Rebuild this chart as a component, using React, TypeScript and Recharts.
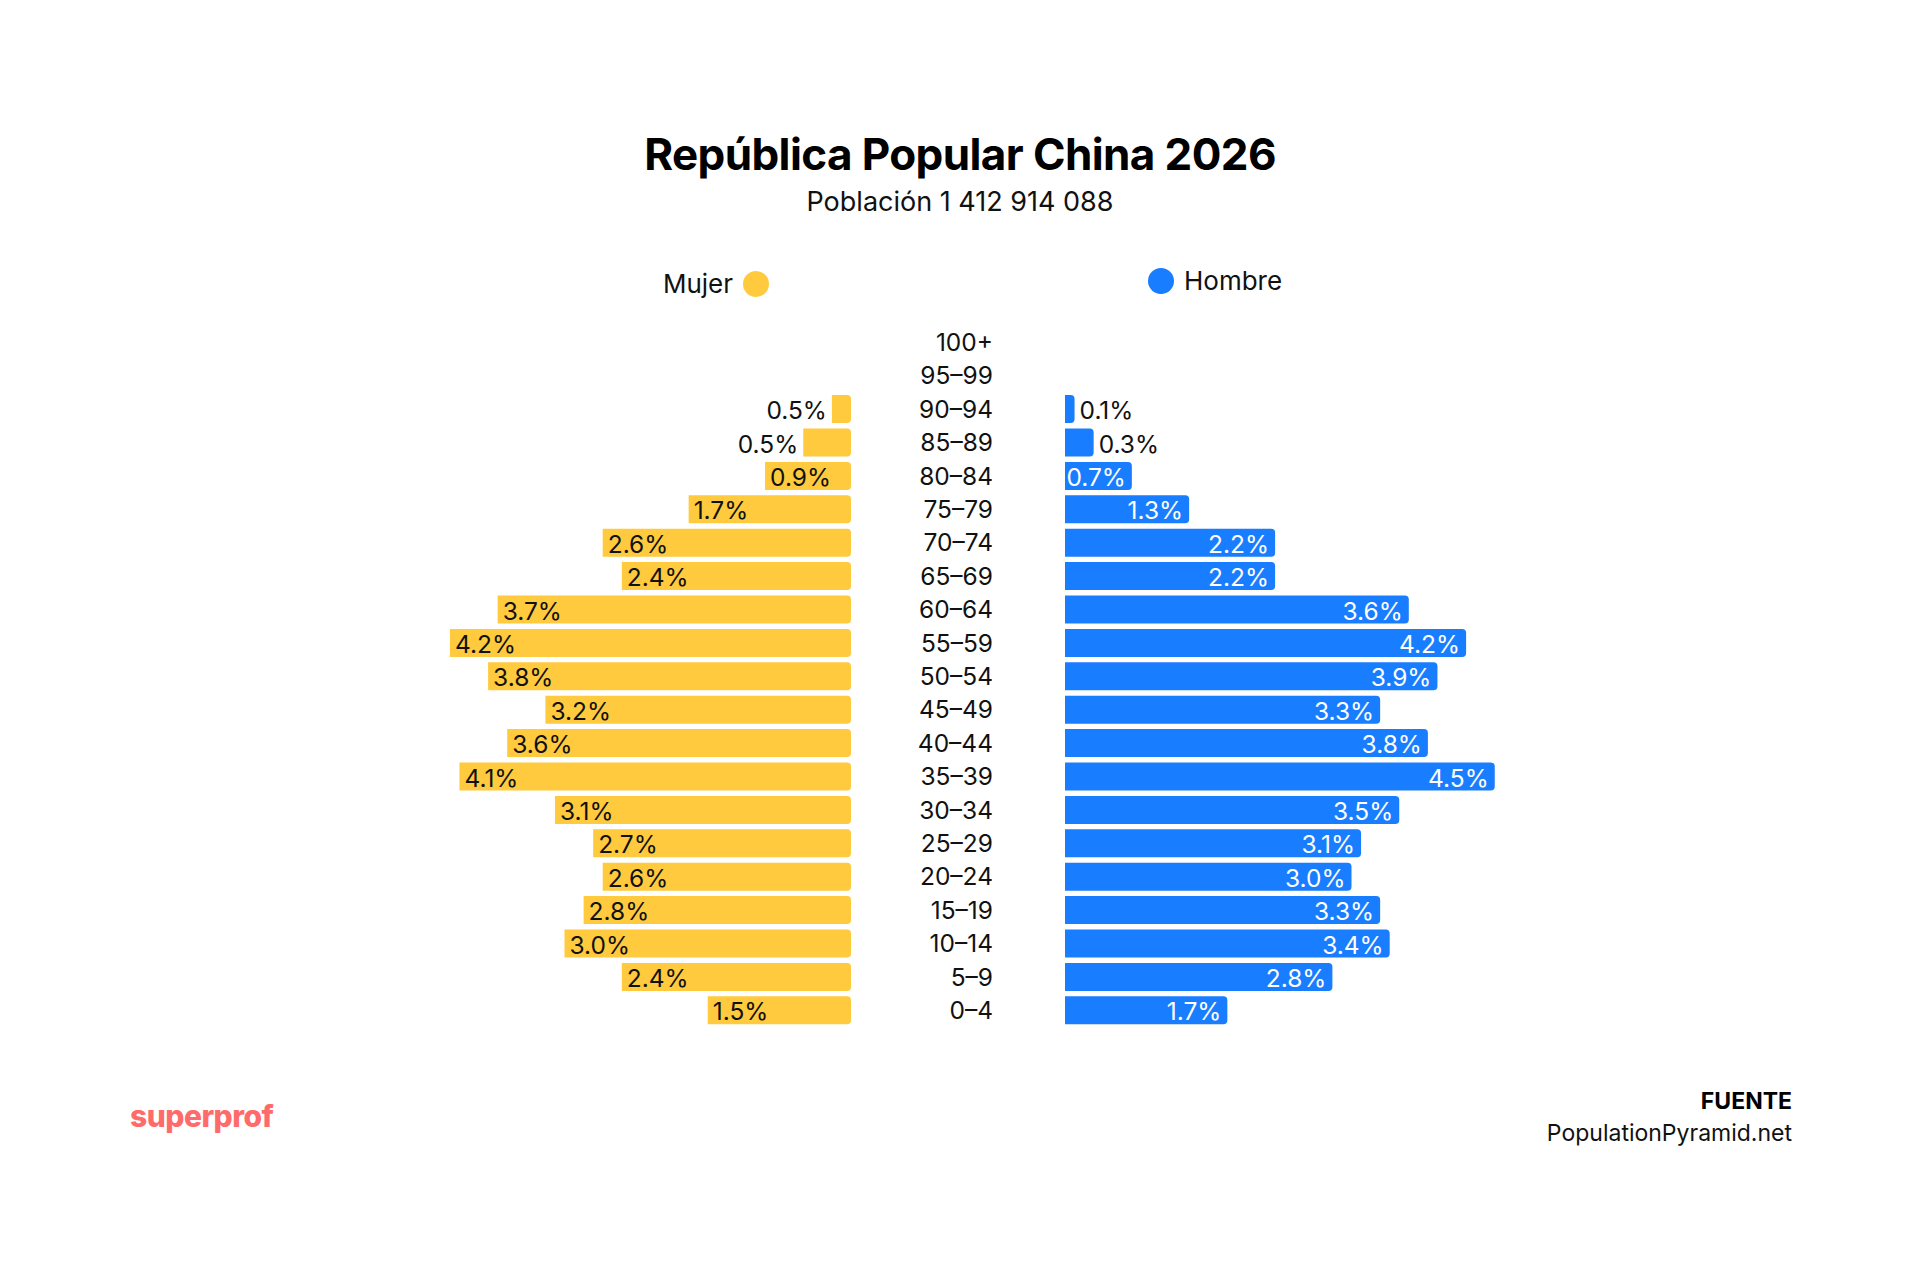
import React from "react";
import { BarChart, Bar, XAxis, YAxis, LabelList } from "recharts";

const ages = ["100+","95–99","90–94","85–89","80–84","75–79","70–74","65–69","60–64","55–59","50–54","45–49","40–44","35–39","30–34","25–29","20–24","15–19","10–14","5–9","0–4"];
const womenBars = [0,0,0.2,0.5,0.9,1.7,2.6,2.4,3.7,4.2,3.8,3.2,3.6,4.1,3.1,2.7,2.6,2.8,3.0,2.4,1.5];
const menBars = [0,0,0.1,0.3,0.7,1.3,2.2,2.2,3.6,4.2,3.9,3.3,3.8,4.5,3.5,3.1,3.0,3.3,3.4,2.8,1.7];
const womenLabels = ["0.0%","0.2%","0.5%","0.5%","0.9%","1.7%","2.6%","2.4%","3.7%","4.2%","3.8%","3.2%","3.6%","4.1%","3.1%","2.7%","2.6%","2.8%","3.0%","2.4%","1.5%"];
const menLabels = ["0.0%","0.0%","0.1%","0.3%","0.7%","1.3%","2.2%","2.2%","3.6%","4.2%","3.9%","3.3%","3.8%","4.5%","3.5%","3.1%","3.0%","3.3%","3.4%","2.8%","1.7%"];

const FONT = "Inter, sans-serif";
const YELLOW = "#FFCA3E";
const BLUE = "#187DFF";
const rows = ages.map((age, i) => ({ age, women: womenBars[i], men: menBars[i], womenLabel: womenLabels[i], menLabel: menLabels[i] }));

const PLOT_W = 477.5;
const PLOT_TOP = 325.3;
const PLOT_H = 701.4;
const LABEL_SIZE = 24.5;
const INSIDE_MIN = 50;

function WomenLabel(props: any) {
  const { x, y, width, height, value } = props;
  const left = Math.min(x, x + width);
  const w = Math.abs(width);
  const inside = w >= INSIDE_MIN;
  return (
    <text x={inside ? left + 5 : left - 5} y={y + height / 2 + 1} textAnchor={inside ? "start" : "end"} dominantBaseline="central"
      fill="#111" fontFamily={FONT} fontSize={LABEL_SIZE}>{value}</text>
  );
}

function MenLabel(props: any) {
  const { x, y, width, height, value } = props;
  const right = x + width;
  const inside = width >= INSIDE_MIN;
  return (
    <text x={inside ? right - 6 : right + 5} y={y + height / 2 + 1} textAnchor={inside ? "end" : "start"} dominantBaseline="central"
      fill={inside ? "#fff" : "#111"} fontFamily={FONT} fontSize={LABEL_SIZE}>{value}</text>
  );
}

function AgeTick(props: any) {
  const { y, payload } = props;
  return (
    <text x={993} y={y} textAnchor="end" dominantBaseline="central" fill="#111" fontFamily={FONT} fontSize={LABEL_SIZE}>{payload.value}</text>
  );
}

const abs = (style: React.CSSProperties): React.CSSProperties => ({ position: "absolute", fontFamily: FONT, whiteSpace: "nowrap", ...style });

export default function App() {
  return (
    <div style={{ position: "absolute", left: 0, top: 0, width: 1920, height: 1280, background: "#fff", overflow: "hidden" }}>
      <div style={abs({ left: 0, width: 1920, top: 124, textAlign: "center", fontSize: 44, fontWeight: 700, lineHeight: "60px", color: "#000", letterSpacing: -0.6 })}>República Popular China 2026</div>
      <div style={abs({ left: 0, width: 1920, top: 184, textAlign: "center", fontSize: 27, lineHeight: "36px", color: "#111" })}>Población 1 412 914 088</div>

      <div style={abs({ right: 1920 - 733, top: 268, fontSize: 26, lineHeight: "32px", color: "#111" })}>Mujer</div>
      <div style={{ position: "absolute", left: 742.5, top: 271, width: 26, height: 26, borderRadius: 13, background: YELLOW }} />
      <div style={{ position: "absolute", left: 1148, top: 268, width: 26, height: 26, borderRadius: 13, background: BLUE }} />
      <div style={abs({ left: 1184, top: 265, fontSize: 26, lineHeight: "32px", color: "#111" })}>Hombre</div>

      <div style={{ position: "absolute", left: 0, top: 0 }}>
        <BarChart width={1065} height={1280} data={rows} layout="vertical" barSize={28}
          margin={{ left: 1065 - 214 - PLOT_W, right: 0, top: PLOT_TOP, bottom: 1280 - PLOT_TOP - PLOT_H }}>
          <XAxis type="number" domain={[0, 5]} reversed hide />
          <YAxis type="category" dataKey="age" orientation="right" width={214} interval={0} tickLine={false} axisLine={false} tick={<AgeTick />} />
          <Bar dataKey="women" fill={YELLOW} radius={[4, 0, 0, 4]} isAnimationActive={false}>
            <LabelList dataKey="womenLabel" content={<WomenLabel />} />
          </Bar>
        </BarChart>
      </div>

      <div style={{ position: "absolute", left: 1065, top: 0 }}>
        <BarChart width={PLOT_W} height={1280} data={rows} layout="vertical" barSize={28}
          margin={{ left: 0, right: 0, top: PLOT_TOP, bottom: 1280 - PLOT_TOP - PLOT_H }}>
          <XAxis type="number" domain={[0, 5]} hide />
          <YAxis type="category" dataKey="age" hide />
          <Bar dataKey="men" fill={BLUE} radius={[0, 4, 4, 0]} isAnimationActive={false}>
            <LabelList dataKey="menLabel" content={<MenLabel />} />
          </Bar>
        </BarChart>
      </div>

      <div style={abs({ left: 130, top: 1096, fontSize: 30, fontWeight: 800, lineHeight: "40px", color: "#FF6B6B", letterSpacing: -0.5 })}>superprof</div>
      <div style={abs({ right: 128, top: 1086, fontSize: 23, fontWeight: 700, lineHeight: "30px", color: "#000" })}>FUENTE</div>
      <div style={abs({ right: 128, top: 1118, fontSize: 23, lineHeight: "30px", color: "#111" })}>PopulationPyramid.net</div>
    </div>
  );
}
